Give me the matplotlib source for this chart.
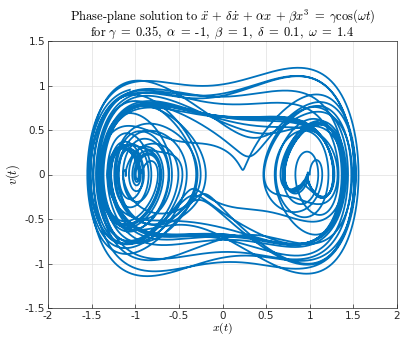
import numpy as np
import matplotlib
matplotlib.use("Agg")
import matplotlib.pyplot as plt

# parameters read from the title
gamma = 0.35
alpha = -1.0
beta = 1.0
delta = 0.1
omega = 1.4

# initial state and time span
x0 = [1.0, 0.0]
t_end = 300.0
dt = 0.01

xlim = [-2, 2]
ylim = [-1.5, 1.5]
xticks = [-2, -1.5, -1, -0.5, 0, 0.5, 1, 1.5, 2]
yticks = [-1.5, -1, -0.5, 0, 0.5, 1, 1.5]


def rhs(t, s):
    x, v = s
    return np.array([v, gamma * np.cos(omega * t) - delta * v - alpha * x - beta * x ** 3])


def rk4(s0, t_end, dt):
    n = int(t_end / dt)
    out = np.zeros((n + 1, 2))
    s = np.array(s0, dtype=float)
    out[0] = s
    t = 0.0
    for i in range(n):
        k1 = rhs(t, s)
        k2 = rhs(t + dt / 2, s + dt / 2 * k1)
        k3 = rhs(t + dt / 2, s + dt / 2 * k2)
        k4 = rhs(t + dt, s + dt * k3)
        s = s + dt / 6 * (k1 + 2 * k2 + 2 * k3 + k4)
        t += dt
        out[i + 1] = s
    return out


sol = rk4(x0, t_end, dt)

plt.rcParams["mathtext.fontset"] = "cm"
fig = plt.figure(figsize=(4.01, 3.39), dpi=100)
ax = fig.add_axes([48 / 401, 1 - 308 / 339, 349 / 401, 267 / 339])
ax.plot(sol[:, 0], sol[:, 1], color="#0072BD", lw=1.3)
ax.set_xlim(xlim)
ax.set_ylim(ylim)
ax.set_xticks(xticks)
ax.set_yticks(yticks)
fmt = lambda v: ("%g" % v)
ax.set_xticklabels([fmt(v) for v in xticks])
ax.set_yticklabels([fmt(v) for v in yticks])
ax.tick_params(direction="in", labelsize=7.5, length=3, width=0.5, colors="#262626", pad=2)
ax.grid(True, color="#e0e0e0", lw=0.5)
for sp in ax.spines.values():
    sp.set_color("#262626")
    sp.set_linewidth(0.5)
ax.set_xlabel("$x(t)$", fontsize=8.5, labelpad=0)
ax.set_ylabel("$v(t)$", fontsize=9, labelpad=2)
ax.set_title(r"$\mathrm{Phase\text{-}plane\ solution\ to\ }\ddot{x}\,+\,\delta\dot{x}\,+\,\alpha x\,+\,\beta x^3\;=\;\gamma\cos(\omega t)$"
             "\n"
             r"$\mathrm{for\ }\gamma\;=\;0.35,\ \alpha\;=\;\text{-}1,\ \beta\;=\;1,\ \delta\;=\;0.1,\ \omega\;=\;1.4$",
             fontsize=9.0, pad=3, linespacing=1.0)
fig.savefig("out.png", dpi=100)
